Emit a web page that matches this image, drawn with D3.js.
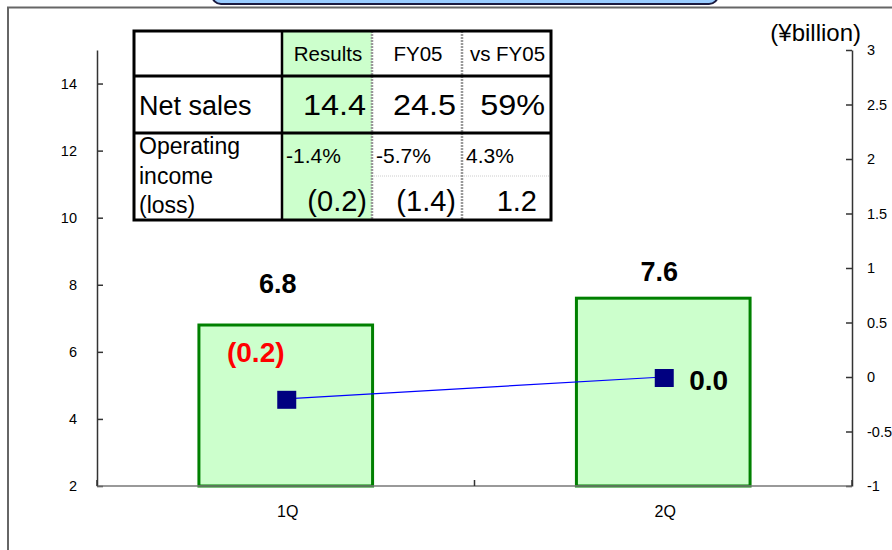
<!DOCTYPE html>
<html>
<head>
<meta charset="utf-8">
<script src="https://cdn.jsdelivr.net/npm/d3@7/dist/d3.min.js"></script>
<style>
  html, body { margin: 0; padding: 0; background: #fff; }
  svg { display: block; font-family: "Liberation Sans", Arial, sans-serif; }
</style>
</head>
<body>
<svg id="chart" width="892" height="550"></svg>
<script>
// Quarterly figures
const quarters = ["1Q", "2Q"];
const netSales = [6.8, 7.6];            // left axis, bars
const operatingIncome = [-0.2, 0.0];    // right axis, line

// Axis ticks
const leftTicks = [2, 4, 6, 8, 10, 12, 14];
const rightTicks = [-1, -0.5, 0, 0.5, 1, 1.5, 2, 2.5, 3];

// Summary table
const tableColumns = ["Results", "FY05", "vs FY05"];
const salesRow = ["14.4", "24.5", "59%"];
const marginRow = ["-1.4%", "-5.7%", "4.3%"];
const incomeRow = ["(0.2)", "(1.4)", "1.2"];

const svg = d3.select("#chart");

// Place a text at (x, y), optionally widened horizontally by sx
function placeText(sel, fx, fy, sx = 1) {
  sel.attr("transform", (d, i) => `translate(${fx(d, i)},${fy(d, i)}) scale(${sx},1)`);
  return sel;
}

// Frame and title tab
svg.append("rect").attr("x", 212).attr("y", -20).attr("width", 506).attr("height", 24)
  .attr("rx", 9).attr("fill", "#99ccff").attr("stroke", "#1a1a40").attr("stroke-width", 2);
svg.append("path").attr("d", "M8,550 V7.5 H892")
  .attr("fill", "none").attr("stroke", "#666").attr("stroke-width", 2);

// Scales
const plot = { left: 97, right: 852, top: 50, bottom: 486 };
const x = d3.scaleBand().domain(quarters).range([plot.left, plot.right])
  .paddingInner(0.54).paddingOuter(0.27);
const yL = d3.scaleLinear().domain([2, 15]).range([plot.bottom, plot.top]);
const yR = d3.scaleLinear().domain([-1, 3]).range([plot.bottom, plot.top]);
const cx = q => x(q) + x.bandwidth() / 2;

// Bars
svg.append("g").selectAll("rect").data(quarters).join("rect")
  .attr("x", q => x(q))
  .attr("y", (q, i) => yL(netSales[i]))
  .attr("width", x.bandwidth())
  .attr("height", (q, i) => yL(2) - yL(netSales[i]))
  .attr("fill", "#ccffcc").attr("stroke", "#008000").attr("stroke-width", 3);

// Left axis
const axL = svg.append("g").attr("transform", `translate(${plot.left},0)`)
  .call(d3.axisLeft(yL).tickValues(leftTicks).tickFormat(d => String(d))
    .tickSize(-6).tickSizeOuter(0).tickPadding(20));
// Right axis
const axR = svg.append("g").attr("transform", `translate(${plot.right},0)`)
  .call(d3.axisRight(yR).tickValues(rightTicks).tickFormat(d => String(d))
    .tickSize(-6).tickSizeOuter(0).tickPadding(15));
[axL, axR].forEach(ax => {
  ax.attr("font-size", 14.5).attr("font-family", "'Liberation Sans', Arial, sans-serif");
  ax.select(".domain").attr("stroke", "#333").attr("stroke-width", 1.5);
  ax.selectAll(".tick line").attr("stroke", "#333").attr("stroke-width", 1.5);
  ax.selectAll(".tick text").attr("fill", "#000");
});

// Category axis
const cat = svg.append("g");
cat.append("line").attr("x1", plot.left).attr("x2", plot.right)
  .attr("y1", plot.bottom).attr("y2", plot.bottom)
  .attr("stroke", "#777").attr("stroke-width", 1.5);
const bounds = d3.range(quarters.length + 1).map(i => plot.left + i * x.step());
cat.selectAll("line.tk").data(bounds).join("line").attr("class", "tk")
  .attr("x1", d => d).attr("x2", d => d)
  .attr("y1", plot.bottom).attr("y2", plot.bottom - 6)
  .attr("stroke", "#333").attr("stroke-width", 1.5);
cat.selectAll("text").data(quarters).join("text")
  .attr("x", q => cx(q) + 2).attr("y", 517)
  .attr("text-anchor", "middle").attr("font-size", 16)
  .attr("font-family", "'Liberation Sans Narrow', 'Liberation Sans', sans-serif")
  .text(q => q);

// Operating income line
const line = d3.line().x((q, i) => cx(q)).y((q, i) => yR(operatingIncome[i]));
svg.append("path").datum(quarters).attr("d", line)
  .attr("fill", "none").attr("stroke", "#0000ff").attr("stroke-width", 1.2);
svg.append("g").selectAll("rect").data(quarters).join("rect")
  .attr("x", q => cx(q) - 8.5).attr("y", (q, i) => yR(operatingIncome[i]) - 8)
  .attr("width", 19).attr("height", 18).attr("fill", "#000080");

// Value labels
const salesLabelOffset = [{ dx: -8, dy: -32 }, { dx: -4, dy: -17 }];
svg.append("g").selectAll("text").data(quarters).join("text")
  .attr("x", (q, i) => cx(q) + salesLabelOffset[i].dx)
  .attr("y", (q, i) => yL(netSales[i]) + salesLabelOffset[i].dy)
  .attr("text-anchor", "middle").attr("font-size", 27).attr("font-weight", "bold")
  .text((q, i) => d3.format(".1f")(netSales[i]));

const incomeLabelOffset = [{ dx: -30, dy: -37, anchor: "middle" }, { dx: 26, dy: 13, anchor: "start" }];
const fmtIncome = v => v < 0 ? `(${d3.format(".1f")(-v)})` : d3.format(".1f")(v);
svg.append("g").selectAll("text").data(quarters).join("text")
  .attr("x", (q, i) => cx(q) + incomeLabelOffset[i].dx)
  .attr("y", (q, i) => yR(operatingIncome[i]) + incomeLabelOffset[i].dy)
  .attr("text-anchor", (q, i) => incomeLabelOffset[i].anchor)
  .attr("font-size", 28).attr("font-weight", "bold")
  .attr("fill", (q, i) => operatingIncome[i] < 0 ? "#ff0000" : "#000")
  .text((q, i) => fmtIncome(operatingIncome[i]));

// Unit label
svg.append("text").attr("x", 861).attr("y", 41).attr("text-anchor", "end")
  .attr("font-size", 24).text("(¥billion)");

// Summary table
const tbl = svg.append("g");
const colX = [134, 282, 372, 462, 551];
const rowY = [31, 76, 133, 220];
tbl.append("rect").attr("x", colX[1]).attr("y", rowY[0])
  .attr("width", colX[2] - colX[1]).attr("height", rowY[3] - rowY[0]).attr("fill", "#ccffcc");
// faint inner rule in the income row
tbl.append("line").attr("x1", colX[2]).attr("x2", colX[4]).attr("y1", 176).attr("y2", 176)
  .attr("stroke", "#ccc").attr("stroke-width", 1).attr("stroke-dasharray", "1,1");
[colX[2], colX[3]].forEach(cxl => tbl.append("line")
  .attr("x1", cxl).attr("x2", cxl).attr("y1", rowY[0]).attr("y2", rowY[3])
  .attr("stroke", "#999").attr("stroke-width", 2.5).attr("stroke-dasharray", "2,1"));
tbl.append("line").attr("x1", colX[1]).attr("x2", colX[1]).attr("y1", rowY[0]).attr("y2", rowY[3])
  .attr("stroke", "#000").attr("stroke-width", 2.5);
[rowY[1], rowY[2]].forEach(ry => tbl.append("line")
  .attr("x1", colX[0]).attr("x2", colX[4]).attr("y1", ry).attr("y2", ry)
  .attr("stroke", "#000").attr("stroke-width", 3));
tbl.append("rect").attr("x", colX[0]).attr("y", rowY[0])
  .attr("width", colX[4] - colX[0]).attr("height", rowY[3] - rowY[0])
  .attr("fill", "none").attr("stroke", "#000").attr("stroke-width", 3);

tbl.selectAll("text.hd").data(tableColumns).join("text").attr("class", "hd")
  .attr("x", (d, i) => (colX[i + 1] + colX[i + 2]) / 2 + 1).attr("y", 61)
  .attr("text-anchor", "middle").attr("font-size", 20.5).text(d => d);
tbl.append("text").attr("x", 139).attr("y", 115).attr("font-size", 27).text("Net sales");
placeText(tbl.selectAll("text.sl").data(salesRow).join("text").attr("class", "sl"),
  (d, i) => colX[i + 2] - 6, () => 115, 1.08)
  .attr("text-anchor", "end").attr("font-size", 30).text(d => d);
["Operating", "income", "(loss)"].forEach((t, i) => tbl.append("text")
  .attr("x", 139).attr("y", 154 + i * 29.5).attr("font-size", 23).text(t));
tbl.selectAll("text.mg").data(marginRow).join("text").attr("class", "mg")
  .attr("x", (d, i) => colX[i + 1] + 4).attr("y", 163)
  .attr("font-size", 21).text(d => d);
const incomeRight = [367, 456, 537];
tbl.selectAll("text.ic").data(incomeRow).join("text").attr("class", "ic")
  .attr("x", (d, i) => incomeRight[i]).attr("y", 211)
  .attr("text-anchor", "end").attr("font-size", 29).text(d => d);
</script>
</body>
</html>
